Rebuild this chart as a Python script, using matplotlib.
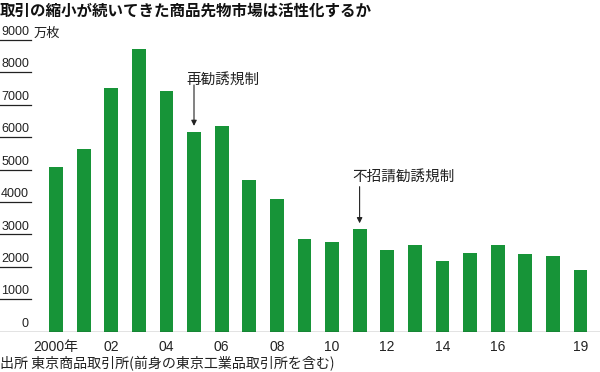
import matplotlib
matplotlib.use("Agg")
import matplotlib.pyplot as plt

# 商品先物の出来高（万枚）
years  = list(range(2000, 2020))
volume = [5075, 5640, 7530, 8715, 7440, 6170, 6350, 4680, 4085, 2870,
          2760, 3160, 2530, 2665, 2170, 2430, 2675, 2410, 2345, 1895]

tick_vals   = [1000, 2000, 3000, 4000, 5000, 6000, 7000, 8000, 9000]
xtick_years = [2000, 2002, 2004, 2006, 2008, 2010, 2012, 2014, 2016, 2019]
xtick_text  = ["2000年", "02", "04", "06", "08", "10", "12", "14", "16", "19"]

notes = [("再勧誘規制", 2005, 7614, 6349, 7768),
         ("不招請勧誘規制", 2011, 4475, 3345, 4784)]

title  = "取引の縮小が続いてきた商品先物市場は活性化するか"
unit   = "万枚"
source = "出所 東京商品取引所(前身の東京工業品取引所を含む)"

green = "#179438"
dark  = "#222222"
num_font = ["Liberation Sans Narrow", "Liberation Sans", "Noto Sans CJK JP"]
jp_font  = ["Noto Sans CJK JP", "DejaVu Sans"]

fig = plt.figure(figsize=(6, 3.72), dpi=100)
ax = fig.add_axes([0, (372 - 331.7) / 372, 1, (331.7 - 40) / 372])
ax.set_xlim(2000 - 56 / 27.6, 2000 + 544 / 27.6)
ax.set_ylim(0, 9000)
ax.axis("off")

ax.bar(years, volume, width=0.5, color=green, zorder=2)

# baseline and short tick lines under the labels
ax.axhline(0, color=dark, lw=0.9, zorder=3)
ytr = ax.get_yaxis_transform()
for v in tick_vals:
    ax.plot([0, 31 / 600], [v, v], color=dark, lw=0.9, transform=ytr, clip_on=False)
for v in [0] + tick_vals:
    ax.text(29 / 600, v + 60, str(v), transform=ytr, ha="right", va="bottom",
            fontsize=9, family=num_font, color=dark)

fig.text(34 / 600, 1 - 33 / 372, unit, ha="left", va="center",
         fontsize=9.5, family=jp_font, color=dark)

x_label_y = -(346.5 - 331.7) / 32.4 * 1000
for yr, lab in zip(xtick_years, xtick_text):
    ax.text(yr, x_label_y, lab, ha="center", va="center",
            fontsize=10, family=num_font, color=dark)

for lab, yr, y0, y1, ytxt in notes:
    ax.annotate("", xy=(yr, y1), xytext=(yr, y0),
                arrowprops=dict(arrowstyle="-|>", lw=0.8, color=dark,
                                mutation_scale=8, shrinkA=0, shrinkB=0))
    ax.text(yr - 0.28, ytxt, lab, ha="left", va="center",
            fontsize=10.5, family=jp_font, color=dark)

fig.text(0, 1 - 11 / 372, title, ha="left", va="center", fontsize=11.2,
         fontweight="bold", family=jp_font, color="#111111")
fig.text(0, 1 - 364 / 372, source, ha="left", va="center",
         fontsize=10.1, family=jp_font, color=dark)

fig.savefig("out.png", dpi=100, facecolor="white")
